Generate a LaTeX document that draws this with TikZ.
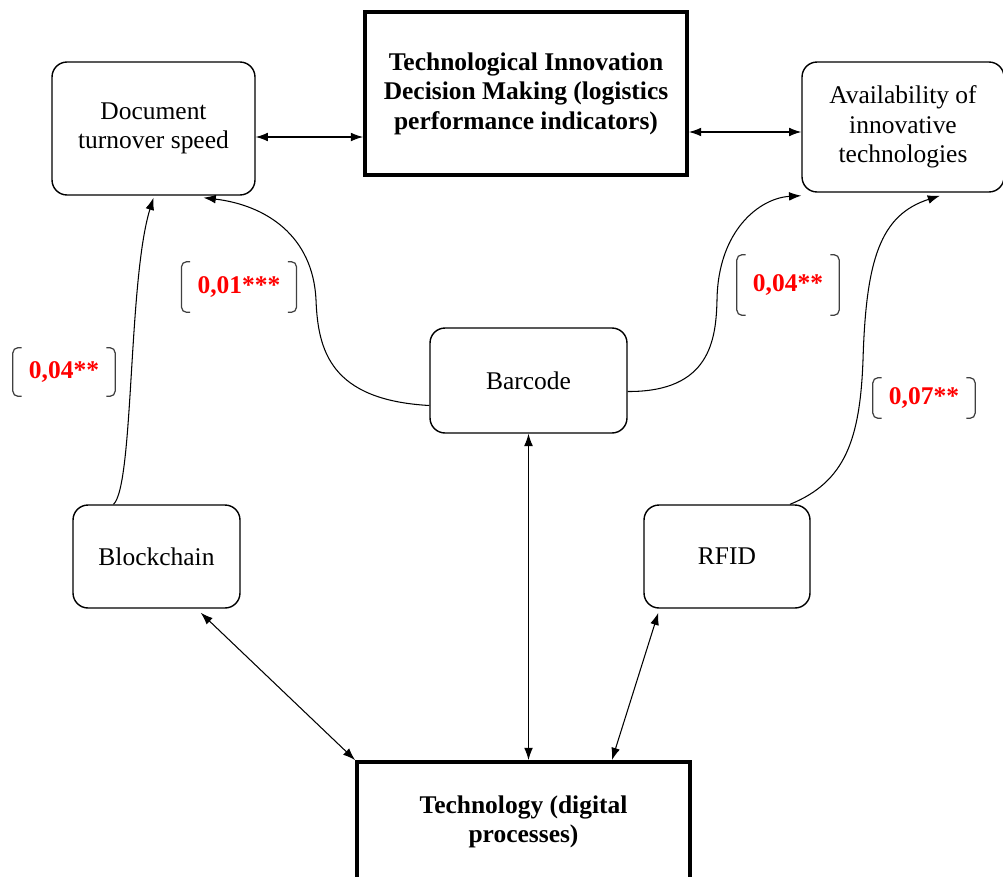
\documentclass[tikz,border=0pt]{standalone}
\usepackage{fontspec}
\setmainfont{Liberation Serif}
\usetikzlibrary{arrows.meta}

\newcommand{\brackets}[1]{%
	\draw[brak] ([xshift=5pt]#1.north west) -- (#1.north west) -- (#1.south west) -- ([xshift=5pt]#1.south west);
	\draw[brak] ([xshift=-5pt]#1.north east) -- (#1.north east) -- (#1.south east) -- ([xshift=-5pt]#1.south east);}

\begin{document}
\begin{tikzpicture}[x=0.02cm, y=-0.02cm,
	font=\fontsize{14.5}{16.8}\selectfont,
	soft/.style={draw, line width=0.8pt, rounded corners=0.3cm, align=center},
	hard/.style={draw, line width=2.2pt, align=center, font=\fontsize{14.5}{16.8}\selectfont\bfseries},
	link/.style={line width=0.6pt, {Latex[length=7pt,width=5pt]}-{Latex[length=7pt,width=5pt]}},
	effect/.style={line width=0.6pt, -{Latex[length=7pt,width=5pt]}},
	coef/.style={text=red, font=\fontsize{14.5}{16.8}\selectfont\bfseries, inner xsep=9pt},
	brak/.style={draw=black!75, line width=0.7pt, rounded corners=3pt}]
	\useasboundingbox (0,0) rectangle (1003,876);
	% boxes
	\node[soft, minimum width=4.06cm, minimum height=2.66cm] (doc) at (153.5,128.5) {Document\\turnover speed};
	\node[hard, minimum width=6.44cm, minimum height=3.26cm] (tid) at (526,93.5) {Technological Innovation\\Decision Making (logistics\\performance indicators)};
	\node[soft, minimum width=4.04cm, minimum height=2.6cm] (avail) at (903,127) {Availability of\\innovative\\technologies};
	\node[soft, minimum width=3.94cm, minimum height=2.1cm] (bar) at (528.5,380.5) {Barcode};
	\node[soft, minimum width=3.34cm, minimum height=2.06cm] (block) at (156.5,556.5) {Blockchain};
	\node[soft, minimum width=3.32cm, minimum height=2.06cm] (rfid) at (727,556.5) {RFID};
	\node[hard, minimum width=6.66cm, minimum height=2.4cm] (tech) at (523.5,822) {Technology (digital\\processes)};
	% two-way links
	\draw[link] ([yshift=-0.17cm]doc.east) -- ([yshift=-0.17cm]doc.east -| tid.west);
	\draw[link] ([yshift=-0.1cm]avail.west -| tid.east) -- ([yshift=-0.1cm]avail.west);
	\draw[link] (bar.south) -- (bar.south |- tech.north);
	\draw[link] ([xshift=-0.8cm,yshift=-0.08cm]block.south east) -- (tech.north west);
	\draw[link] ([xshift=0.3cm,yshift=-0.08cm]rfid.south west) -- ([xshift=-1.6cm]tech.north east);
	% effects
	\draw[effect] ([yshift=-0.5cm]bar.west) .. controls (330,400) and (318,350) .. (316,300)
		.. controls (313,235) and (265,205) .. ([xshift=1cm,yshift=-0.04cm]doc.south);
	\draw[effect] ([yshift=-0.22cm]bar.east) .. controls (710,392) and (716,340) .. (717,300)
		.. controls (718,230) and (760,198) .. ([yshift=-0.06cm]avail.south west);
	\draw[effect] ([xshift=-0.86cm]block.north) .. controls (134,485) and (128,280) .. ([yshift=-0.04cm]doc.south);
	\draw[effect] ([xshift=1.26cm]rfid.north) .. controls (845,482) and (860,440) .. (863,360)
		.. controls (866,260) and (880,215) .. ([xshift=0.74cm,yshift=-0.06cm]avail.south);
	% coefficients
	\node[coef, minimum height=50*0.02cm] (c1) at (239,287) {0,01***};
	\brackets{c1}
	\node[coef, minimum height=48*0.02cm] (c2) at (64,372) {0,04**};
	\brackets{c2}
	\node[coef, minimum height=60*0.02cm] (c3) at (788,285) {0,04**};
	\brackets{c3}
	\node[coef, minimum height=40*0.02cm] (c4) at (924,398) {0,07**};
	\brackets{c4}
\end{tikzpicture}
\end{document}
